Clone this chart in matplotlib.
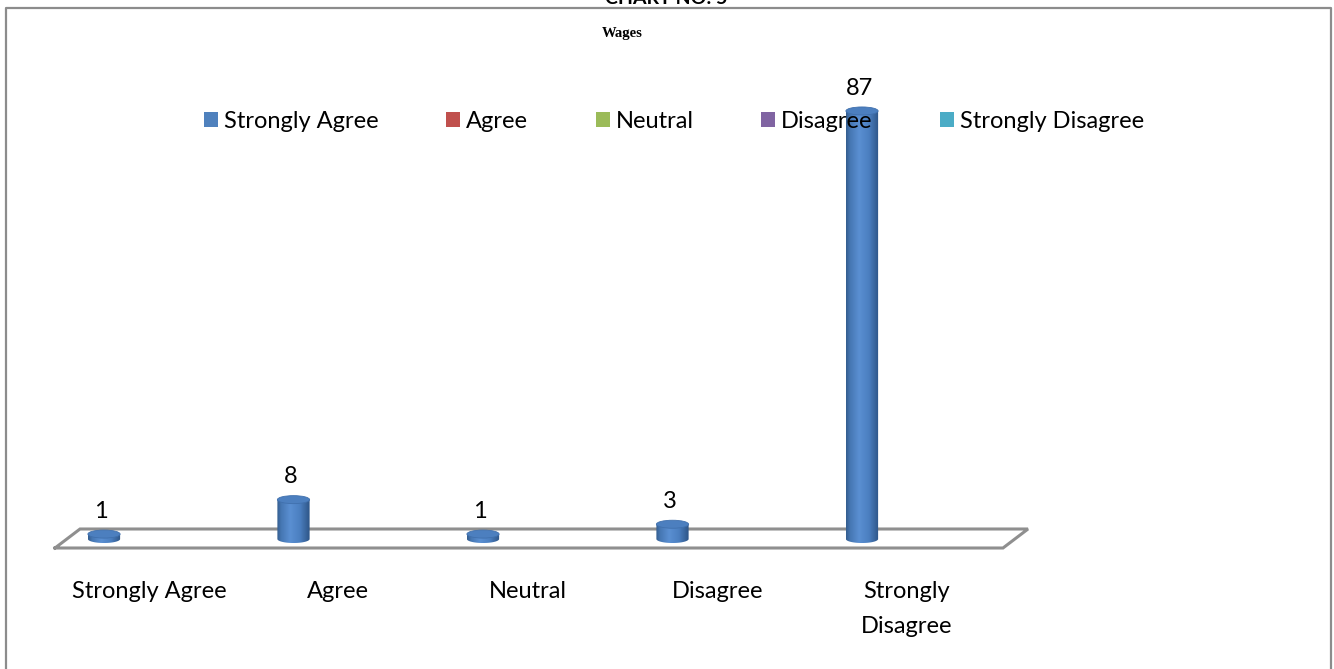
import numpy as np
import matplotlib
matplotlib.use('Agg')
import matplotlib.pyplot as plt
from matplotlib.patches import Ellipse, Polygon, Patch
from matplotlib.colors import LinearSegmentedColormap

# data
categories = ['Strongly Agree', 'Agree', 'Neutral', 'Disagree', 'Strongly\nDisagree']
values = [1, 8, 1, 3, 87]
legend_labels = ['Strongly Agree', 'Agree', 'Neutral', 'Disagree', 'Strongly Disagree']
legend_colors = ['#4f81bd', '#c0504d', '#9bbb59', '#8064a2', '#4bacc6']

plt.rcParams['font.family'] = ['Lato', 'DejaVu Sans']
fs = 17

W, H = 1334, 669
fig = plt.figure(figsize=(W / 100, H / 100), dpi=100)

# frame and floor, in pixel units
bg = fig.add_axes([0, 0, 1, 1])
bg.set_xlim(0, W)
bg.set_ylim(H, 0)
bg.axis('off')
bg.plot([6, 6, 1331, 1331], [H + 5, 8, 8, H + 5], color='#8c8c8c', lw=1.6)
bg.plot([55, 80, 1028, 1003, 55], [548, 529, 529, 548, 548], color='#8f8f8f', lw=2.2,
        solid_joinstyle='miter')

# bar axes: 4.92 px per unit, value 0 at y=539 px
ppu = 4.92
ymin, ymax = -2, 90
ax = fig.add_axes([9.25 / W, (H - 539 + ymin * ppu) / H, 947.5 / W, (ymax - ymin) * ppu / H])
ax.patch.set_alpha(0)
ax.axis('off')

# cylinder shading
cyl = LinearSegmentedColormap.from_list('cyl', [(0, '#345d8f'), (0.12, '#4677b3'),
                                                 (0.4, '#5a8fd2'), (0.7, '#4b7fc0'),
                                                 (1, '#2e5587')])
grad = np.linspace(0, 1, 64).reshape(1, -1)
hw = 0.085   # half width of a cylinder
eh = 1.63    # height of the elliptic caps

for i, v in enumerate(values):
    th = np.linspace(0, -np.pi, 40)
    verts = [(i - hw, v), (i + hw, v)] + list(zip(i + hw * np.cos(th), eh / 2 * np.sin(th)))
    clip = Polygon(verts, closed=True, transform=ax.transData)
    im = ax.imshow(grad, cmap=cyl, aspect='auto', interpolation='bilinear',
                   extent=(i - hw, i + hw, -eh / 2, v), zorder=2)
    im.set_clip_path(clip)
    ax.add_patch(Ellipse((i, v), 2 * hw, eh, facecolor='#4c7fbf', edgecolor='#4070ad',
                         lw=0.6, zorder=3))
    ax.annotate(str(v), (i, v), xytext=(-2, 16.5), textcoords='offset points',
                ha='center', va='center', fontsize=fs)

ax.set_xlim(-0.5, 4.5)
ax.set_ylim(ymin, ymax)

# category names sit under the front edge of the floor
for i, c in enumerate(categories):
    ax.annotate(c, (i + 0.237, 0), xytext=(0, -42 * 0.72), textcoords='offset points',
                ha='center', va='top', fontsize=fs, linespacing=1.83)

handles = [Patch(facecolor=c, edgecolor='none') for c in legend_colors]
fig.legend(handles, legend_labels, loc='center', bbox_to_anchor=(674 / W, 1 - 121 / H),
           ncol=5, frameon=False, fontsize=fs, handlelength=0.59, handleheight=0.59,
           handletextpad=0.25, columnspacing=2.86)

fig.text(622 / W, 1 - 33 / H, 'Wages', family='Liberation Serif', fontweight='bold',
         fontsize=10.5, ha='center', va='center')
fig.text(666 / W, 1 - 4 / H, 'CHART NO: 5', fontweight='bold', fontsize=14,
         ha='center', va='baseline')

fig.savefig('out.png', dpi=100)
